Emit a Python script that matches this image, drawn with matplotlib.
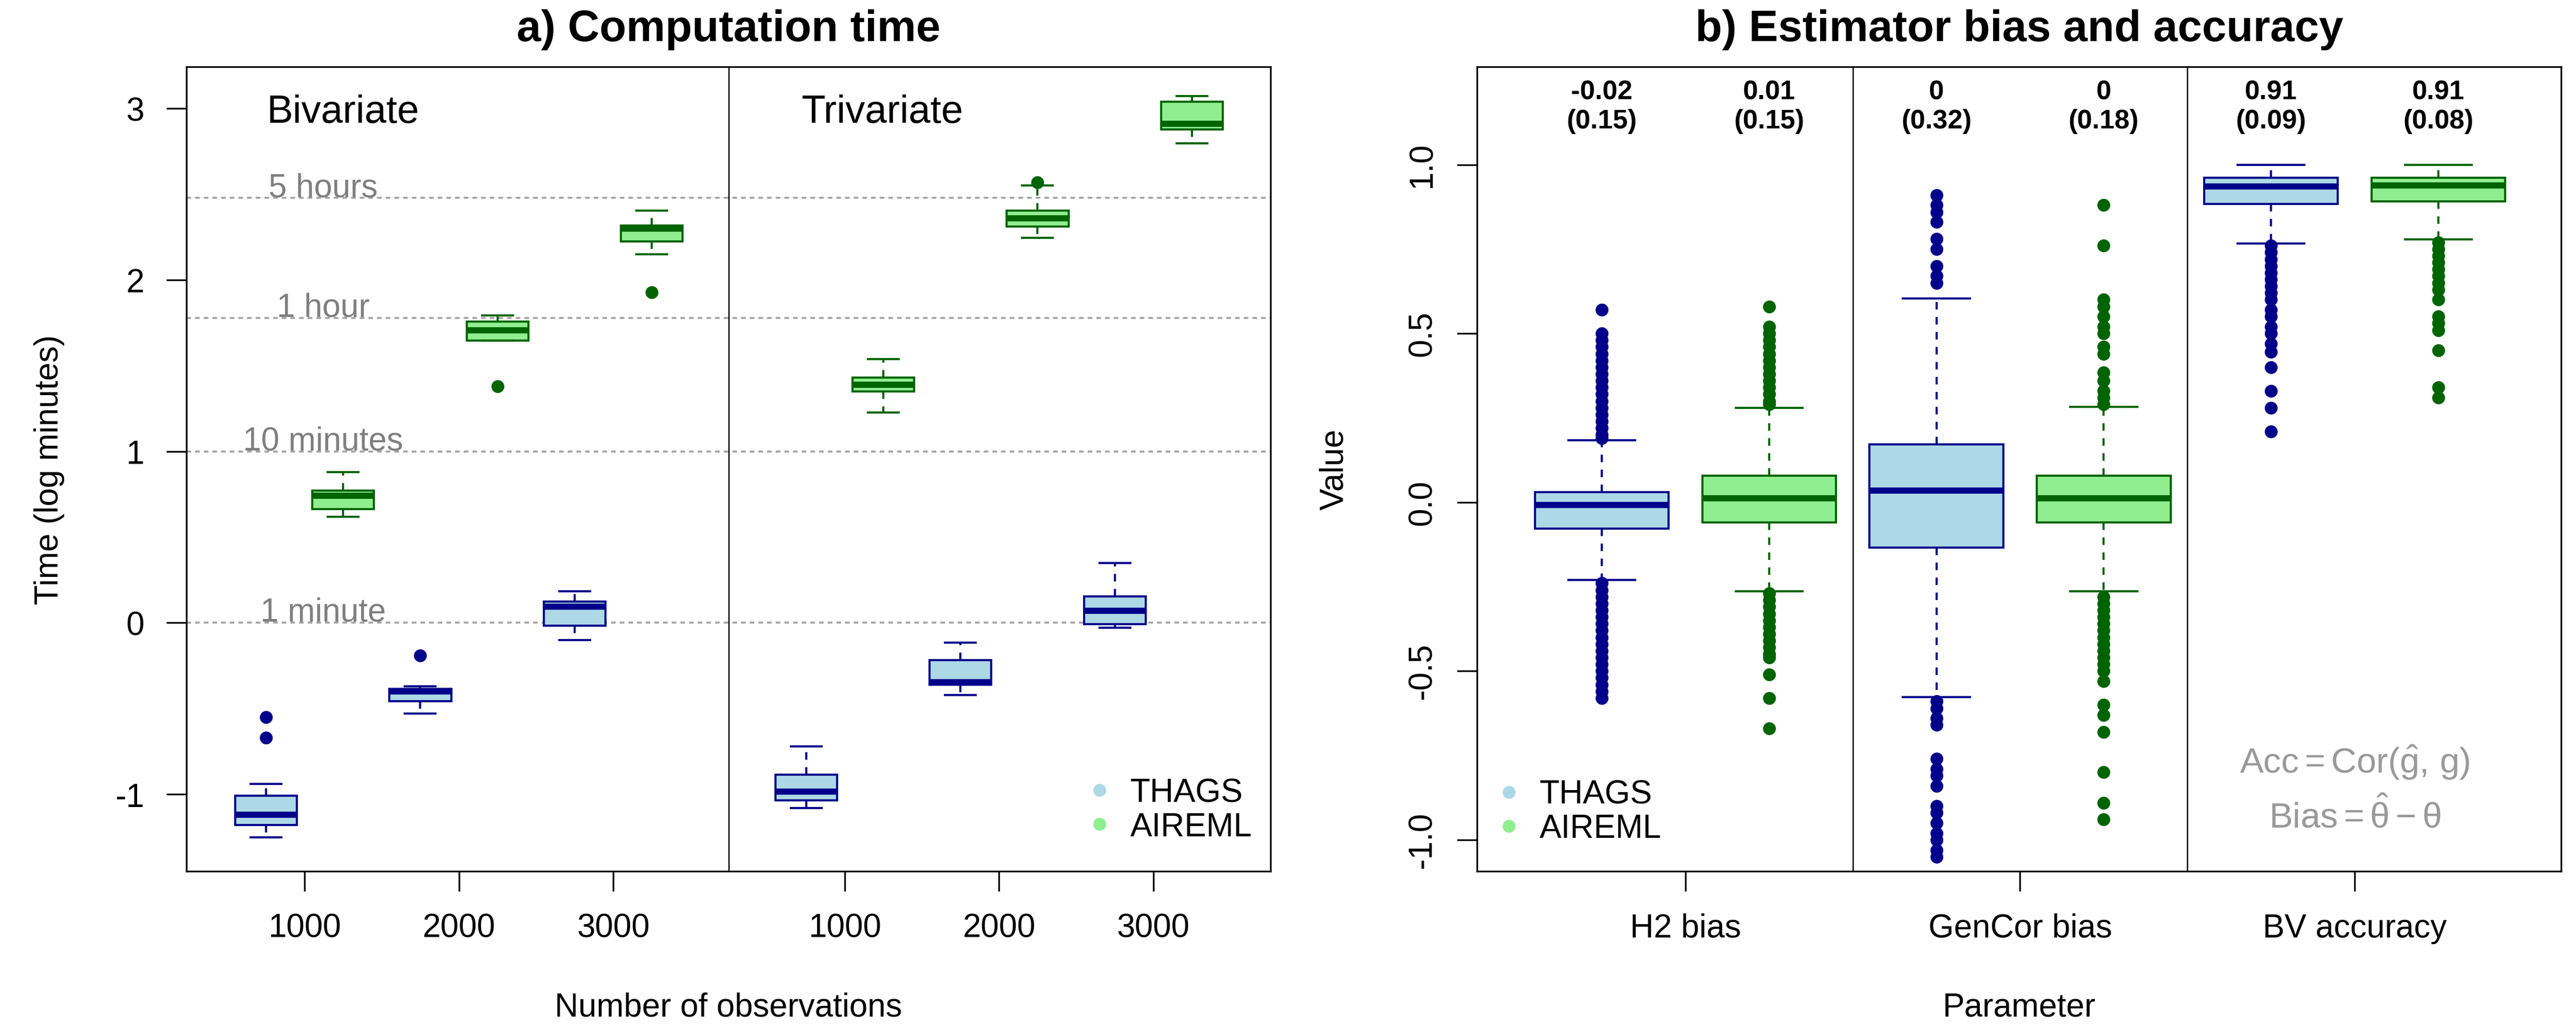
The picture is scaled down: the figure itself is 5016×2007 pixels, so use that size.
import numpy as np
import matplotlib
matplotlib.use('Agg')
import matplotlib.pyplot as plt
from matplotlib.lines import Line2D

plt.rcParams['font.family'] = ['Liberation Sans', 'DejaVu Sans']
plt.rcParams['axes.unicode_minus'] = False
plt.rcParams['mathtext.fontset'] = 'custom'
plt.rcParams['mathtext.rm'] = 'Liberation Sans'
plt.rcParams['mathtext.it'] = 'Liberation Sans:italic'
plt.rcParams['mathtext.bf'] = 'Liberation Sans:bold'

# ---- panel a: computation time (log10 minutes) ----
# order: bivariate 1000, 2000, 3000, trivariate 1000, 2000, 3000
obs_labels = ['1000', '2000', '3000', '1000', '2000', '3000']

thags_time_med = [-1.12, -0.40, 0.093, -0.985, -0.347, 0.069]
thags_time_q1 = [-1.18, -0.458, -0.018, -1.036, -0.362, -0.009]
thags_time_q3 = [-1.009, -0.385, 0.123, -0.886, -0.219, 0.153]
thags_time_lo = [-1.25, -0.53, -0.102, -1.08, -0.422, -0.03]
thags_time_hi = [-0.94, -0.37, 0.183, -0.72, -0.117, 0.347]
thags_time_out = [[-0.55, -0.67], [-0.191], [], [], [], []]

aireml_time_med = [0.742, 1.707, 2.298, 1.389, 2.36, 2.91]
aireml_time_q1 = [0.662, 1.647, 2.224, 1.35, 2.31, 2.877]
aireml_time_q3 = [0.77, 1.757, 2.317, 1.431, 2.404, 3.039]
aireml_time_lo = [0.617, 1.647, 2.15, 1.225, 2.245, 2.796]
aireml_time_hi = [0.88, 1.793, 2.404, 1.539, 2.551, 3.072]
aireml_time_out = [[], [1.38], [1.928], [], [2.569], []]

hour_minutes = [1, 10, 60, 300]
hour_labels = ['1 minute', '10 minutes', '1 hour', '5 hours']

# ---- panel b: estimator bias and accuracy ----
param_labels = ['H2 bias', 'GenCor bias', 'BV accuracy']

thags_est_med = [-0.008, 0.035, 0.935]
thags_est_q1 = [-0.078, -0.134, 0.884]
thags_est_q3 = [0.030, 0.172, 0.962]
thags_est_lo = [-0.230, -0.577, 0.767]
thags_est_hi = [0.184, 0.604, 1.0]
thags_est_out = [
    [0.57, 0.50, 0.48, 0.46, 0.44, 0.42, 0.40, 0.38, 0.36, 0.34, 0.32, 0.30,
     0.28, 0.26, 0.24, 0.22, 0.20, 0.19,
     -0.24, -0.26, -0.28, -0.30, -0.32, -0.34, -0.36, -0.38, -0.40, -0.42,
     -0.44, -0.46, -0.48, -0.50, -0.52, -0.54, -0.56, -0.58],
    [0.91, 0.88, 0.86, 0.83, 0.78, 0.75, 0.70, 0.67, 0.65,
     -0.59, -0.61, -0.64, -0.66, -0.76, -0.79, -0.81, -0.84,
     -0.90, -0.92, -0.95, -0.98, -1.00, -1.03, -1.05],
    [0.76, 0.74, 0.72, 0.70, 0.68, 0.66, 0.64, 0.62, 0.60, 0.57, 0.55, 0.52,
     0.50, 0.47, 0.445, 0.40, 0.33, 0.28, 0.21],
]

aireml_est_med = [0.011, 0.011, 0.939]
aireml_est_q1 = [-0.06, -0.06, 0.892]
aireml_est_q3 = [0.078, 0.078, 0.962]
aireml_est_lo = [-0.263, -0.263, 0.778]
aireml_est_hi = [0.28, 0.283, 1.0]
aireml_est_out = [
    [0.58, 0.52, 0.50, 0.48, 0.46, 0.44, 0.42, 0.40, 0.38, 0.36, 0.34, 0.32,
     0.30, 0.29,
     -0.27, -0.29, -0.31, -0.33, -0.35, -0.37, -0.39, -0.41, -0.43, -0.45,
     -0.46, -0.51, -0.58, -0.67],
    [0.88, 0.76, 0.60, 0.58, 0.55, 0.52, 0.50, 0.46, 0.44, 0.385, 0.36, 0.33,
     0.31, 0.29,
     -0.28, -0.30, -0.32, -0.34, -0.36, -0.38, -0.40, -0.42, -0.44, -0.46,
     -0.48, -0.50, -0.53, -0.60, -0.63, -0.68, -0.80, -0.89, -0.94],
    [0.77, 0.75, 0.73, 0.71, 0.69, 0.67, 0.65, 0.63, 0.60, 0.55, 0.53, 0.51,
     0.45, 0.34, 0.31],
]

thags_mean = [-0.02, 0, 0.91]
thags_sd = [0.15, 0.32, 0.09]
aireml_mean = [0.01, 0, 0.91]
aireml_sd = [0.15, 0.18, 0.08]

THAGS_EDGE, THAGS_FILL = '#00008b', '#add8e6'
AIREML_EDGE, AIREML_FILL = '#006400', '#90ee90'
FS = 15.3


def make_stats(med, q1, q3, lo, hi, out):
    return [dict(med=m, q1=a, q3=b, whislo=l, whishi=h, fliers=f)
            for m, a, b, l, h, f in zip(med, q1, q3, lo, hi, out)]


def draw_boxes(ax, stats, pos, width, edge, fill):
    ax.bxp(stats, positions=pos, widths=width, capwidths=width * 0.5,
           patch_artist=True, manage_ticks=False,
           boxprops=dict(facecolor=fill, edgecolor=edge, linewidth=1.0),
           medianprops=dict(color=edge, linewidth=2.9, solid_capstyle='butt'),
           whiskerprops=dict(color=edge, linewidth=1.0, linestyle=(0, (3.5, 3.5))),
           capprops=dict(color=edge, linewidth=1.0),
           flierprops=dict(marker='o', markerfacecolor=edge, markeredgecolor=edge,
                           markersize=5, linestyle='none'))


def style_axes(ax):
    for s in ax.spines.values():
        s.set_linewidth(0.8)
    ax.tick_params(direction='out', length=9.4, width=0.8, labelsize=FS)
    ax.tick_params(axis='x', pad=10)


fig = plt.figure(figsize=(16.72, 6.693), dpi=300)
ax1 = fig.add_axes([0.0724, 0.1549, 0.4208, 0.7799])
ax2 = fig.add_axes([0.5734, 0.1549, 0.4208, 0.7799])

# ---- panel a ----
obs_ticks = np.array([1, 2, 3, 4.5, 5.5, 6.5])
for m, lab in zip(hour_minutes, hour_labels):
    y = np.log10(m)
    ax1.axhline(y, color='#a3a3a3', lw=0.9, linestyle=(0, (2.4, 2.1)), zorder=0)
    ax1.text(1.12, y + 0.01, lab, color='#7f7f7f', ha='center', va='baseline',
             fontsize=FS)

draw_boxes(ax1, make_stats(thags_time_med, thags_time_q1, thags_time_q3,
                           thags_time_lo, thags_time_hi, thags_time_out),
           obs_ticks - 0.25, 0.4, THAGS_EDGE, THAGS_FILL)
draw_boxes(ax1, make_stats(aireml_time_med, aireml_time_q1, aireml_time_q3,
                           aireml_time_lo, aireml_time_hi, aireml_time_out),
           obs_ticks + 0.25, 0.4, AIREML_EDGE, AIREML_FILL)
ax1.axvline(3.75, color='black', lw=0.6)

ax1.set_xlim(0.235, 7.259)
ax1.set_ylim(-1.449, 3.2425)
ax1.set_xticks(obs_ticks)
ax1.set_xticklabels(obs_labels)
ax1.set_yticks([-1, 0, 1, 2, 3])
ax1.set_yticklabels(['-1', '0', '1', '2', '3'])
style_axes(ax1)
ax1.tick_params(axis='y', pad=10.3)

ax1.text(1.25, 2.976, 'Bivariate', ha='center', va='center', fontsize=18.3)
ax1.text(4.743, 2.976, 'Trivariate', ha='center', va='center', fontsize=18.3)

ax1.set_xlabel('Number of observations', fontsize=FS)
ax1.xaxis.set_label_coords(0.5, -0.1692)
ax1.xaxis.label.set_verticalalignment('center')
ax1.set_ylabel('Time (log minutes)', fontsize=FS)
ax1.yaxis.set_label_coords(-0.1265, 0.5)
ax1.yaxis.label.set_verticalalignment('center')
ax1.text(0.5, 1.0466, 'a) Computation time', transform=ax1.transAxes,
         ha='center', va='center', fontsize=20.5, fontweight='bold')

handles = [Line2D([], [], marker='o', linestyle='none', color=THAGS_FILL, markersize=5),
           Line2D([], [], marker='o', linestyle='none', color=AIREML_FILL, markersize=5)]
ax1.legend(handles, ['THAGS', 'AIREML'], loc='center left',
           bbox_to_anchor=(0.8333, 0.0763), frameon=False, fontsize=FS,
           handlelength=0.6, handletextpad=0.63, borderpad=0, borderaxespad=0,
           labelspacing=0.1)

# ---- panel b ----
param_ticks = np.array([1.5, 4.5, 7.5])
draw_boxes(ax2, make_stats(thags_est_med, thags_est_q1, thags_est_q3,
                           thags_est_lo, thags_est_hi, thags_est_out),
           param_ticks - 0.75, 1.2, THAGS_EDGE, THAGS_FILL)
draw_boxes(ax2, make_stats(aireml_est_med, aireml_est_q1, aireml_est_q3,
                           aireml_est_lo, aireml_est_hi, aireml_est_out),
           param_ticks + 0.75, 1.2, AIREML_EDGE, AIREML_FILL)
for xs in (3, 6):
    ax2.axvline(xs, color='black', lw=0.6)

for x, m, s in zip(param_ticks - 0.75, thags_mean, thags_sd):
    ax2.text(x, 1.172, f'{m:g}\n({s:g})', ha='center', va='center',
             fontsize=12.6, fontweight='bold', linespacing=1.2)
for x, m, s in zip(param_ticks + 0.75, aireml_mean, aireml_sd):
    ax2.text(x, 1.172, f'{m:g}\n({s:g})', ha='center', va='center',
             fontsize=12.6, fontweight='bold', linespacing=1.2)

ax2.text(7.5, -0.770, r'$\mathrm{Acc} = \mathrm{Cor}(\hat{\mathrm{g}},\,\mathrm{g})$',
         color='#999999', ha='center', va='center', fontsize=16.5)
ax2.text(7.5, -0.930, r'$\mathrm{Bias} = \hat{\mathrm{\theta}} - \mathrm{\theta}$',
         color='#999999', ha='center', va='center', fontsize=16.5)

ax2.set_xlim(-0.369, 9.351)
ax2.set_ylim(-1.093, 1.29)
ax2.set_xticks(param_ticks)
ax2.set_xticklabels(param_labels)
ax2.set_yticks([-1, -0.5, 0, 0.5, 1])
ax2.set_yticklabels(['-1.0', '-0.5', '0.0', '0.5', '1.0'], rotation=90, va='center')
style_axes(ax2)
ax2.tick_params(axis='y', pad=8.9)

ax2.set_xlabel('Parameter', fontsize=FS)
ax2.xaxis.set_label_coords(0.5, -0.1692)
ax2.xaxis.label.set_verticalalignment('center')
ax2.set_ylabel('Value', fontsize=FS)
ax2.yaxis.set_label_coords(-0.1317, 0.5)
ax2.yaxis.label.set_verticalalignment('center')
ax2.text(0.5, 1.0466, 'b) Estimator bias and accuracy', transform=ax2.transAxes,
         ha='center', va='center', fontsize=20.5, fontweight='bold')

ax2.legend(handles, ['THAGS', 'AIREML'], loc='center left',
           bbox_to_anchor=(0.0204, 0.074), frameon=False, fontsize=FS,
           handlelength=0.6, handletextpad=0.63, borderpad=0, borderaxespad=0,
           labelspacing=0.1)

fig.savefig('out.png', dpi=300)
